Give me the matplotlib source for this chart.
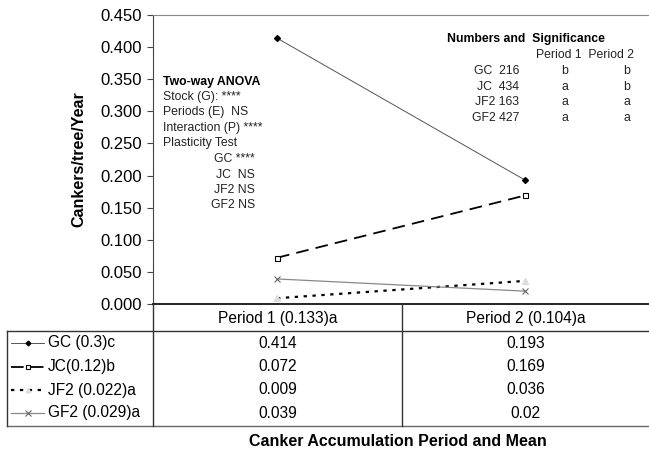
import matplotlib.pyplot as plt
from matplotlib.lines import Line2D

plt.rcParams['font.family'] = ['Liberation Sans', 'DejaVu Sans']

# canker counts per tree per year for each stock
periods = ['Period 1 (0.133)a', 'Period 2 (0.104)a']
stocks = ['GC (0.3)c', 'JC(0.12)b', 'JF2 (0.022)a', 'GF2 (0.029)a']
gc = [0.414, 0.193]
jc = [0.072, 0.169]
jf2 = [0.009, 0.036]
gf2 = [0.039, 0.02]
series = [gc, jc, jf2, gf2]

yticks = [0.0, 0.05, 0.1, 0.15, 0.2, 0.25, 0.3, 0.35, 0.4, 0.45]

anova_lines = ['Stock (G): ****', 'Periods (E)  NS', 'Interaction (P) ****', 'Plasticity Test']
plast_lines = ['GC ****', 'JC  NS', 'JF2 NS', 'GF2 NS']
counts = ['GC  216', 'JC  434', 'JF2 163', 'GF2 427']
sig_p1 = ['b', 'a', 'a', 'a']
sig_p2 = ['b', 'b', 'a', 'a']

line_st = [
    dict(color='#555555', lw=0.7, ls='-'),
    dict(color='black', lw=1.3, ls=(0, (7, 4))),
    dict(color='black', lw=1.6, ls=(0, (1.5, 2.5))),
    dict(color='#888888', lw=0.9, ls='-'),
]
mark_st = [
    dict(marker='D', ms=3, mfc='black', mec='black'),
    dict(marker='s', ms=3.6, mfc='white', mec='black', mew=0.8),
    dict(marker='^', ms=4, mfc='#dddddd', mec='#dddddd'),
    dict(marker='x', ms=5, mec='#666666', mew=0.8),
]

W, H = 649, 450
fig = plt.figure(figsize=(W / 100, H / 100), dpi=100)

# main plot area
x0, x1, ytop, ybot = 153, 649, 15, 304
ax = fig.add_axes([x0 / W, 1 - ybot / H, (x1 - x0) / W, (ybot - ytop) / H])
xs = [0.5, 1.5]
for vals, ls_, ms_ in zip(series, line_st, mark_st):
    ax.plot(xs, vals, **ls_, **ms_)
ax.set_xlim(0, 2)
ax.set_ylim(0, 0.45)
ax.set_yticks(yticks)
ax.set_yticklabels(['%.3f' % v for v in yticks], fontsize=12)
ax.set_xticks([])
ax.tick_params(axis='y', length=4, width=0.8, color='#444444', pad=4)
ax.spines['right'].set_visible(False)
ax.spines['top'].set_color('#888888')
ax.spines['left'].set_color('#444444')
ax.spines['bottom'].set_color('black')
ax.spines['bottom'].set_linewidth(1.2)
ax.set_ylabel('Cankers/tree/Year', fontsize=11.5, fontweight='bold', labelpad=10)

# ANOVA notes
tx = lambda px: (px - x0) / (x1 - x0)
ty = lambda py: (ybot - py) / (ybot - ytop)
fs = 8.8
ax.text(tx(163), ty(82), 'Two-way ANOVA', fontsize=fs, fontweight='bold',
        va='center', transform=ax.transAxes)
for i, s in enumerate(anova_lines):
    ax.text(tx(163), ty(97 + 15.3 * i), s, fontsize=fs, va='center',
            transform=ax.transAxes, color='#222222')
for i, s in enumerate(plast_lines):
    ax.text(tx(255), ty(159 + 15.5 * i), s, fontsize=fs, va='center', ha='right',
            transform=ax.transAxes, color='#222222')

ax.text(tx(447), ty(39), 'Numbers and  Significance', fontsize=fs, fontweight='bold',
        va='center', transform=ax.transAxes)
ax.text(tx(536), ty(55), 'Period 1  Period 2', fontsize=fs, va='center',
        transform=ax.transAxes, color='#222222')
for i in range(len(counts)):
    yy = ty(71 + 15.7 * i)
    ax.text(tx(519), yy, counts[i], fontsize=fs, va='center', ha='right',
            transform=ax.transAxes, color='#222222')
    ax.text(tx(565), yy, sig_p1[i], fontsize=fs, va='center', ha='center',
            transform=ax.transAxes, color='#222222')
    ax.text(tx(627), yy, sig_p2[i], fontsize=fs, va='center', ha='center',
            transform=ax.transAxes, color='#222222')

# data table below the plot, in pixel coordinates
tab = fig.add_axes([0, 0, 1, 1])
tab.set_xlim(0, W)
tab.set_ylim(H, 0)
tab.axis('off')
lc = '#333333'
tab.plot([7, W], [331, 331], color=lc, lw=1)
tab.plot([7, W], [426, 426], color='#666666', lw=1)
tab.plot([7, 7], [331, 426], color=lc, lw=1)
for xv in [153, 402]:
    tab.plot([xv, xv], [304, 426], color=lc, lw=1)

col_c = [277.5, 525.5]
tfs = 11.2
for j, p in enumerate(periods):
    tab.text(col_c[j], 318, p, fontsize=tfs, ha='center', va='center')

row_y = [343, 366.5, 390, 413]
for i, (name, vals) in enumerate(zip(stocks, series)):
    y = row_y[i]
    tab.add_line(Line2D([11, 44], [y, y], **line_st[i]))
    small = dict(mark_st[i], ms=mark_st[i]['ms'] * 0.8)
    tab.plot([28], [y], linestyle='none', **small)
    tab.text(48, y, name, fontsize=tfs, va='center')
    for j, v in enumerate(vals):
        tab.text(col_c[j], y, str(v) if v == 0.02 else '%.3f' % v,
                 fontsize=tfs, ha='center', va='center')

tab.text(398, 441, 'Canker Accumulation Period and Mean', fontsize=11.5,
         fontweight='bold', ha='center', va='center')

fig.savefig('out.png', dpi=100)
